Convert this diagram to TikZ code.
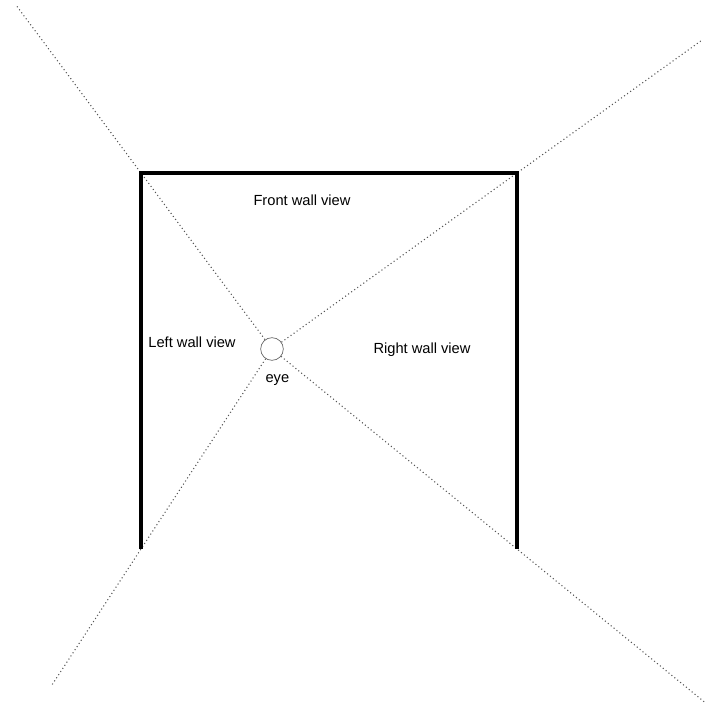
\documentclass[tikz,border=0pt]{standalone}
\usepackage{fontspec}
\setmainfont{Liberation Sans}
\usetikzlibrary{positioning, calc}
\definecolor{raygray}{HTML}{555555}

\begin{document}
\begin{tikzpicture}[x=0.75pt,y=-0.75pt,font=\fontsize{11}{13}\selectfont]
        \useasboundingbox (0,0) rectangle (708,724);
        % corners of the room
        \coordinate (tl) at (141,173);
        \coordinate (tr) at (517,173);
        \coordinate (bl) at (141,549);
        \coordinate (br) at (517,549);
        \node[draw=black!60,circle,line width=0.5pt,minimum size=17pt,inner sep=0pt] (eye) at (272,349) {};
        \node[below=7pt of eye,xshift=4pt] (eyelbl) {eye};
        \node at (302,200) (front) {Front wall view};
        \node at (192,342) (left) {Left wall view};
        \node at (422,350) (right) {Right wall view};
        % rays through the corners
        \coordinate (tlend) at ($(eye.center)!1.95!(tl)$);
        \coordinate (trend) at ($(eye.center)!1.755!(tr)$);
        \coordinate (blend) at ($(eye.center)!1.68!(bl)$);
        \coordinate (brend) at ($(eye.center)!1.77!(br)$);
        \draw[dotted,raygray,line width=0.8pt] (eye)--(tlend);
        \draw[dotted,raygray,line width=0.8pt] (eye)--(trend);
        \draw[dotted,raygray,line width=0.8pt] (eye)--(blend);
        \draw[dotted,raygray,line width=0.8pt] (eye)--(brend);
        \draw[line width=2.6pt,black] (bl)--(tl)--(tr)--(br);
      \end{tikzpicture}
\end{document}
